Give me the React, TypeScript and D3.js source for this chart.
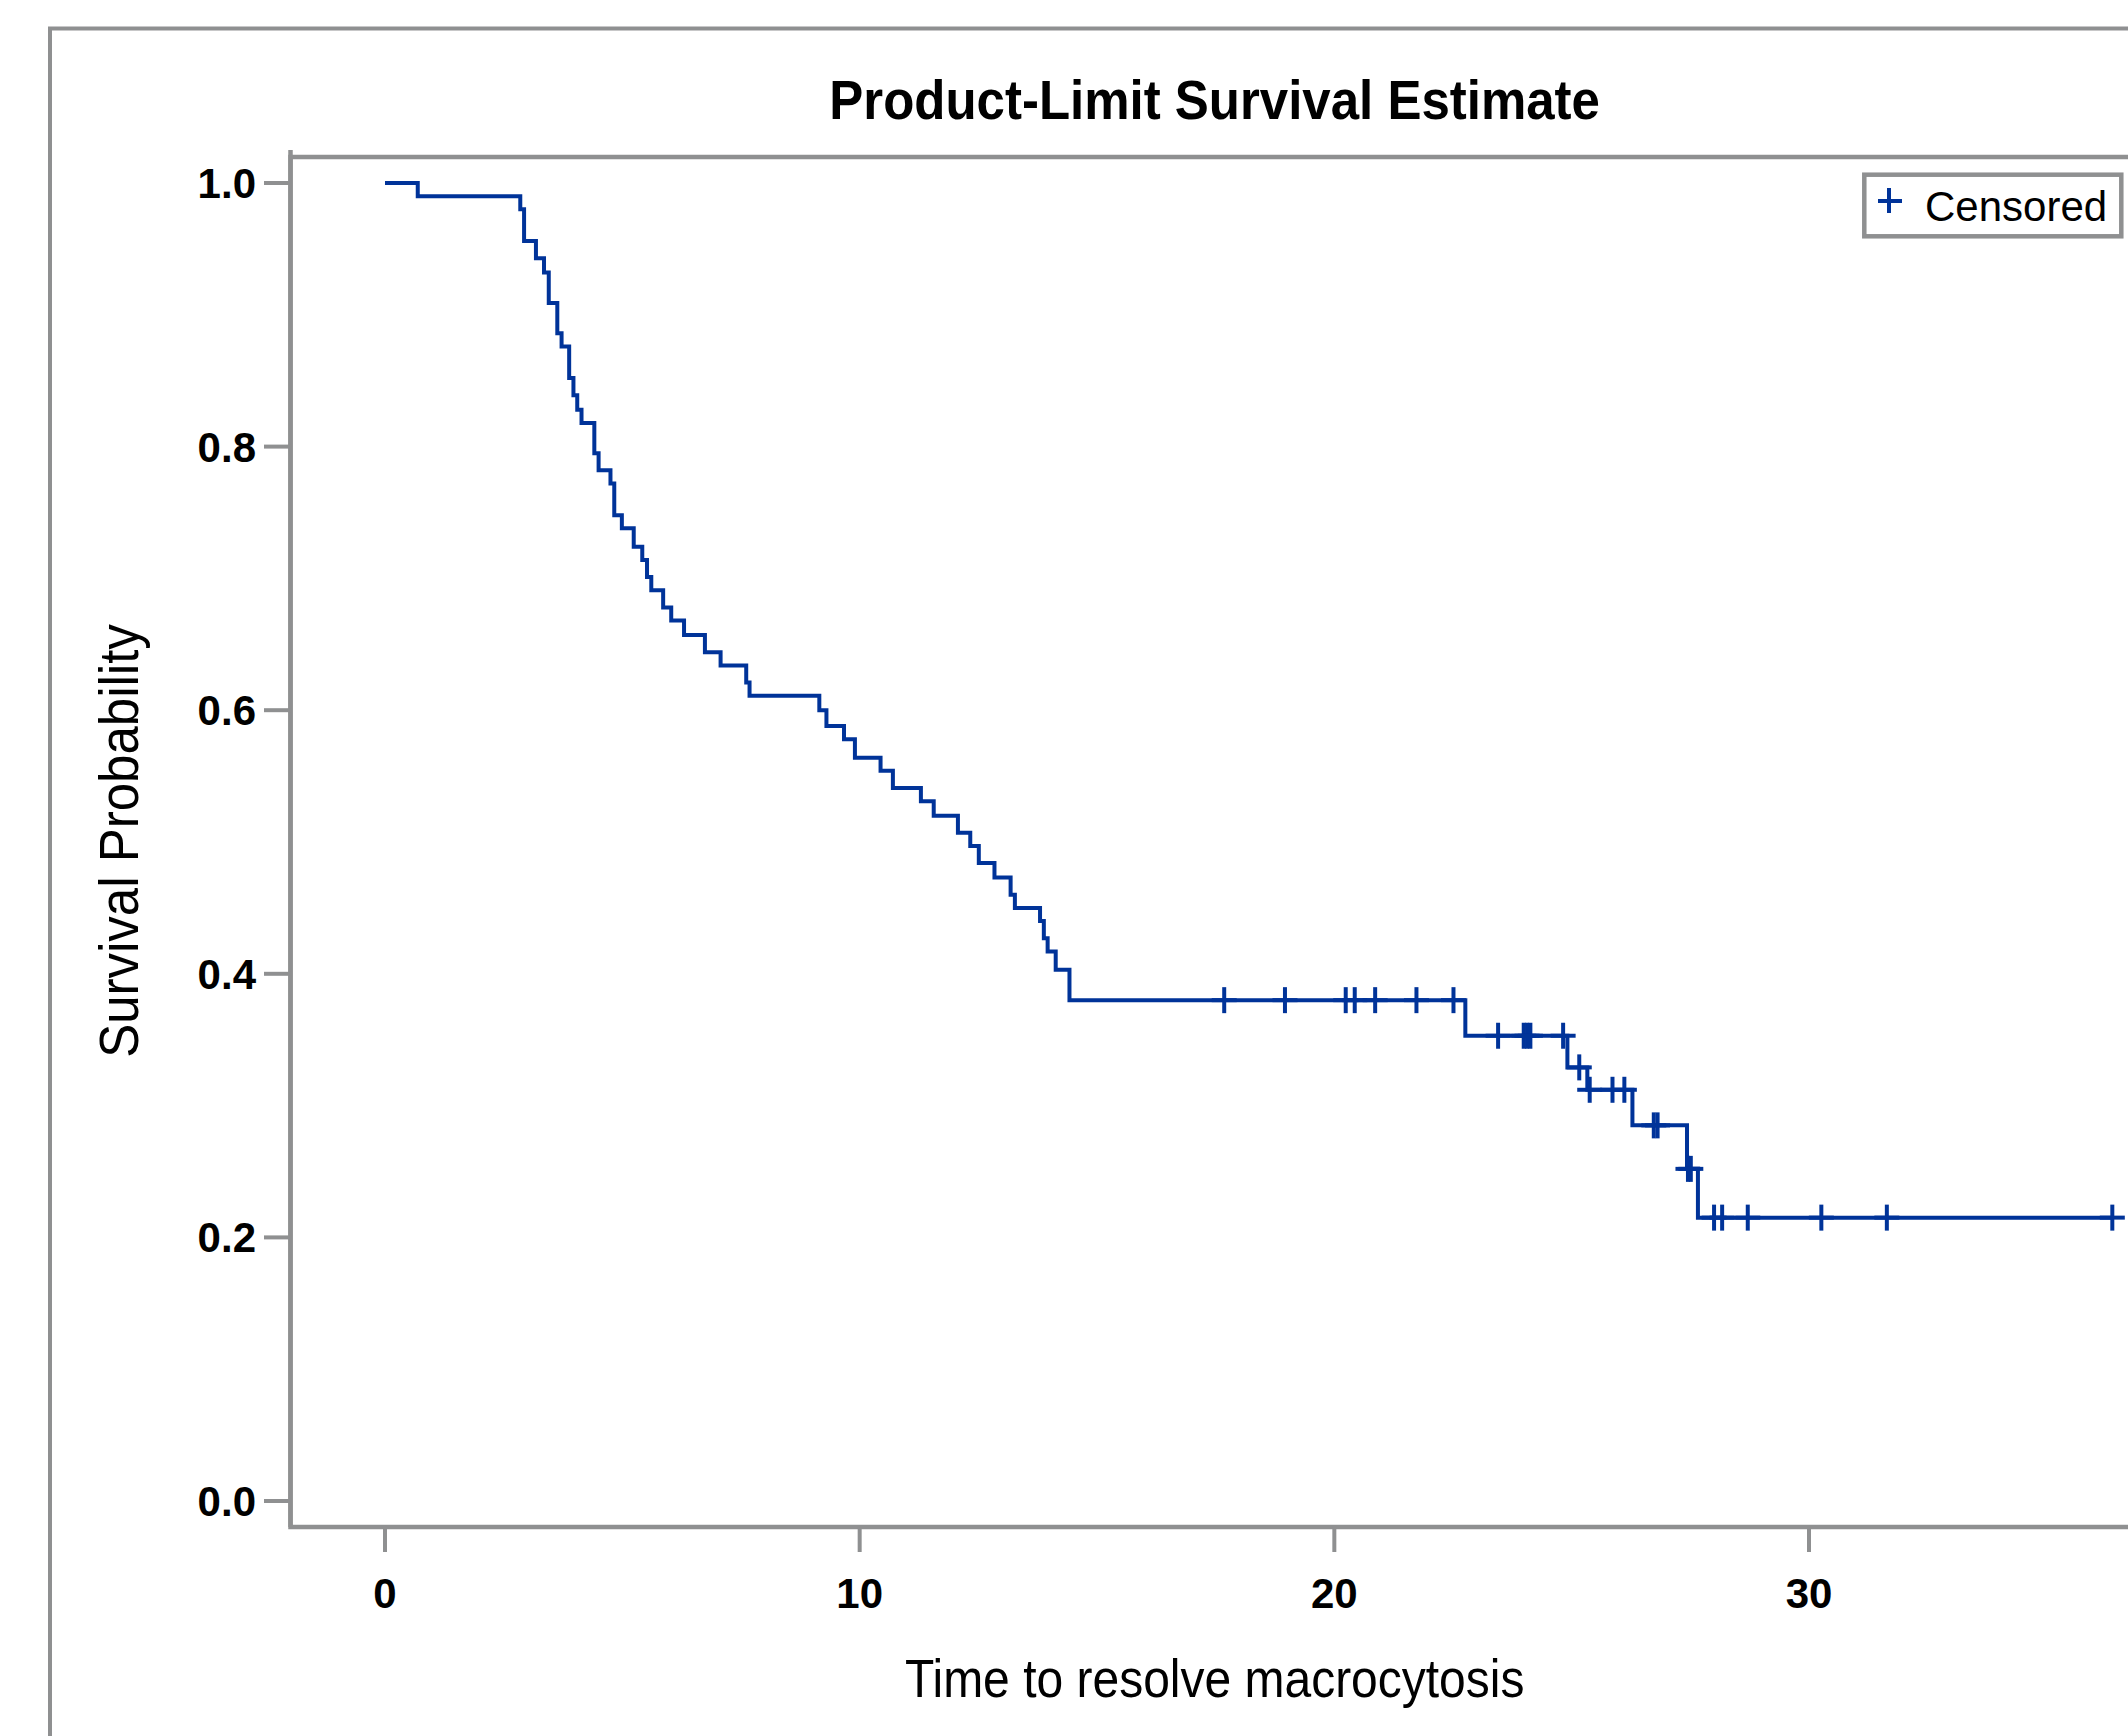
import React from 'react'
import * as d3 from 'd3'

const width = 2128
const height = 1736

// event times and survival estimate right after each drop
const eventTimes = [
  0.69, 2.85, 2.93, 3.18, 3.35, 3.45, 3.63, 3.72, 3.88, 3.97, 4.05, 4.14, 4.41, 4.5, 4.75, 4.83,
  4.99, 5.24, 5.42, 5.52, 5.61, 5.86, 6.03, 6.3, 6.74, 7.07, 7.61, 7.68, 9.15, 9.3, 9.67, 9.9,
  10.44, 10.7, 11.29, 11.56, 12.07, 12.33, 12.51, 12.84, 13.18, 13.27, 13.8, 13.88, 13.96, 14.13,
  14.42, 22.76, 24.91, 25.33, 26.28, 27.43, 27.66,
]
const survival = [
  0.99, 0.98, 0.956, 0.943, 0.932, 0.909, 0.886, 0.876, 0.852, 0.839, 0.828, 0.818, 0.795, 0.782,
  0.772, 0.748, 0.738, 0.724, 0.714, 0.701, 0.691, 0.678, 0.668, 0.657, 0.644, 0.634, 0.621,
  0.611, 0.6, 0.588, 0.578, 0.564, 0.554, 0.541, 0.531, 0.52, 0.507, 0.497, 0.484, 0.473, 0.46,
  0.45, 0.44, 0.427, 0.417, 0.403, 0.38, 0.353, 0.329, 0.312, 0.285, 0.252, 0.215,
]
const censorTimes = [
  17.68, 18.96, 20.24, 20.43, 20.86, 21.73, 22.51, 23.45, 23.99, 24.06, 24.13, 24.82, 25.16,
  25.38, 25.86, 26.11, 26.73, 26.81, 27.45, 27.51, 28.0, 28.17, 28.71, 30.26, 31.64, 36.39,
]

const xTicks = [0, 10, 20, 30]
const yTicks = [0, 0.2, 0.4, 0.6, 0.8, 1.0]

const title = 'Product-Limit Survival Estimate'
const xLabel = 'Time to resolve macrocytosis'
const yLabel = 'Survival Probability'
const legendLabel = 'Censored'

const font = '"Liberation Sans", Arial, sans-serif'
const gray = '#8f9091'
const blue = '#003399'

const plot = { left: 290.5, top: 157, right: 2138, bottom: 1527 }

const x = d3.scaleLinear().domain([0, 30]).range([385, 1809])
const y = d3.scaleLinear().domain([0, 1]).range([1501, 183])

const survAt = (t: number) => {
  const i = d3.bisectRight(eventTimes, t)
  return i === 0 ? 1 : survival[i - 1]
}

const App = () => {
  const lastT = d3.max(censorTimes) as number
  const pts: [number, number][] = [[0, 1], ...eventTimes.map((t, i) => [t, survival[i]] as [number, number]), [lastT, survAt(lastT)]]
  const line = d3.line<[number, number]>()
    .x(d => x(d[0]))
    .y(d => y(d[1]))
    .curve(d3.curveStepAfter)

  const arm = 12.5

  return (
    <svg width={width} height={height} style={{ position: 'absolute', left: 0, top: 0, background: '#fff' }}>
      {/* outer frame */}
      <rect x={50} y={28.5} width={2300} height={2000} fill="none" stroke={gray} strokeWidth={4} />

      <text transform={`translate(1214.6,119) scale(1,1.09)`} textAnchor="middle" fontFamily={font} fontWeight="bold" fontSize={51} fill="#000">{title}</text>

      {/* plot frame */}
      <rect x={plot.left} y={plot.top} width={plot.right - plot.left} height={plot.bottom - plot.top} fill="none" stroke={gray} strokeWidth={4.5} />
      <line x1={plot.left} x2={plot.left} y1={150} y2={plot.bottom} stroke={gray} strokeWidth={4.5} />

      {/* y axis */}
      {yTicks.map(v => (
        <g key={v}>
          <line x1={264} x2={plot.left} y1={y(v)} y2={y(v)} stroke={gray} strokeWidth={4} />
          <text x={256} y={y(v) + 15} textAnchor="end" fontFamily={font} fontWeight="bold" fontSize={42} fill="#000">{d3.format('.1f')(v)}</text>
        </g>
      ))}
      <text transform={`translate(138,841) rotate(-90) scale(1,1.1)`} textAnchor="middle" fontFamily={font} fontSize={51} fill="#000">{yLabel}</text>

      {/* x axis */}
      {xTicks.map(v => (
        <g key={v}>
          <line x1={x(v)} x2={x(v)} y1={plot.bottom} y2={1552} stroke={gray} strokeWidth={4} />
          <text x={x(v)} y={1608} textAnchor="middle" fontFamily={font} fontWeight="bold" fontSize={42} fill="#000">{v}</text>
        </g>
      ))}
      <text transform={`translate(1214.7,1697) scale(1,1.1)`} textAnchor="middle" fontFamily={font} fontSize={48} fill="#000">{xLabel}</text>

      {/* survival curve */}
      <path d={line(pts) || ''} fill="none" stroke={blue} strokeWidth={4} />
      {censorTimes.map((t, i) => (
        <g key={i} stroke={blue} strokeWidth={4}>
          <line x1={x(t)} x2={x(t)} y1={y(survAt(t)) - 13} y2={y(survAt(t)) + 13} />
          <line x1={x(t) - arm} x2={x(t) + arm} y1={y(survAt(t))} y2={y(survAt(t))} />
        </g>
      ))}

      {/* legend */}
      <rect x={1864.3} y={174.7} width={2121.3 - 1864.3} height={236.3 - 174.7} fill="#fff" stroke={gray} strokeWidth={4.5} />
      <g stroke={blue} strokeWidth={4}>
        <line x1={1889} x2={1889} y1={188} y2={213} />
        <line x1={1878} x2={1902} y1={201} y2={201} />
      </g>
      <text x={1925} y={221} fontFamily={font} fontSize={42} fill="#000">{legendLabel}</text>
    </svg>
  )
}

export default App
